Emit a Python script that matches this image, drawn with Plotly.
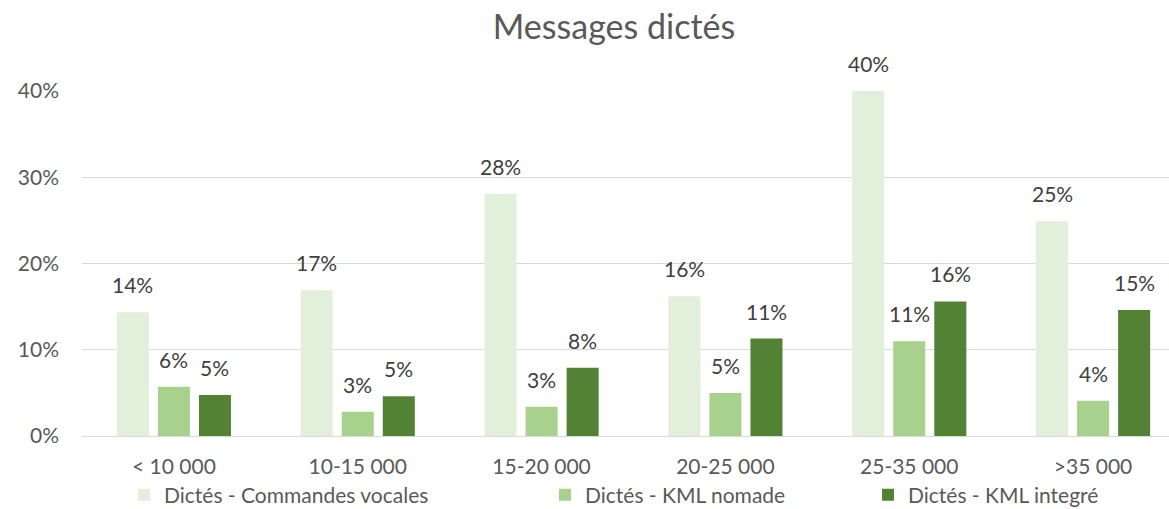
import plotly.graph_objects as go

categories = ["< 10 000", "10-15 000", "15-20 000", "20-25 000", "25-35 000", ">35 000"]
series_names = ["Dictés - Commandes vocales", "Dictés - KML nomade", "Dictés - KML integré"]
vocales = [0.1435, 0.169, 0.281, 0.162, 0.400, 0.249]
nomade = [0.057, 0.028, 0.034, 0.050, 0.110, 0.041]
integre = [0.0475, 0.046, 0.079, 0.113, 0.156, 0.146]
colors = ["#E2EFDA", "#A9D18E", "#548235"]
y_ticks = [0, 0.1, 0.2, 0.3, 0.4]

W, H = 1169, 509
ml, mr, mt, mb = 82, 0, 91, 73
x_range = [-0.5, 5.413]
bargap = 0.33
px_per_cat = (W - ml - mr) / (x_range[1] - x_range[0])
slot_px = px_per_cat * (1 - bargap) / 3

font_family = "Lato, 'Open Sans', sans-serif"
grey = "#595959"

fig = go.Figure()
all_series = [vocales, nomade, integre]
legend_ids = ["legend", "legend2", "legend3"]
for i, (name, vals) in enumerate(zip(series_names, all_series)):
    fig.add_trace(go.Bar(
        x=categories, y=vals, name=name,
        marker=dict(color=colors[i], line=dict(width=0)),
        legend=legend_ids[i],
        hoverinfo="skip",
    ))
    for c, v in zip(categories, vals):
        fig.add_annotation(
            x=c, y=v, text=f"{round(v * 100):d}%", showarrow=False,
            xanchor="center", yanchor="bottom",
            xshift=(i - 1) * slot_px, yshift=13,
            font=dict(family=font_family, size=21, color="#404040"),
        )

leg_common = dict(orientation="h", yanchor="middle", xref="container", yref="container",
                  y=(H - 495) / H, bgcolor="rgba(0,0,0,0)",
                  font=dict(family=font_family, size=21, color=grey),
                  itemwidth=30)
fig.update_layout(
    width=W, height=H,
    margin=dict(l=ml, r=mr, t=mt, b=mb, autoexpand=False),
    paper_bgcolor="white", plot_bgcolor="white",
    barmode="group", bargap=bargap, bargroupgap=0.22,
    title=dict(text="Messages dictés", x=614 / W, xref="container", xanchor="center",
               y=1 - 27 / H, yanchor="middle",
               font=dict(family=font_family, size=34, color=grey)),
    legend=dict(x=124 / W, xanchor="left", **leg_common),
    legend2=dict(x=545 / W, xanchor="left", **leg_common),
    legend3=dict(x=868 / W, xanchor="left", **leg_common),
    xaxis=dict(type="category", range=x_range, showgrid=False, zeroline=False,
               showline=False, ticks="", ticklabelstandoff=16, automargin=False,
               tickfont=dict(family=font_family, size=21, color=grey)),
    yaxis=dict(range=[0, 0.4], tickvals=y_ticks, tickformat=".0%",
               showgrid=True, gridcolor="#D9D9D9", gridwidth=1,
               zeroline=True, zerolinecolor="#D9D9D9", zerolinewidth=1,
               showline=False, ticks="", ticklabelstandoff=22, automargin=False,
               tickfont=dict(family=font_family, size=21, color=grey)),
    showlegend=True,
)

fig.write_html("out.html", config={"displayModeBar": False},
               post_script="document.body.style.margin='0px';")
